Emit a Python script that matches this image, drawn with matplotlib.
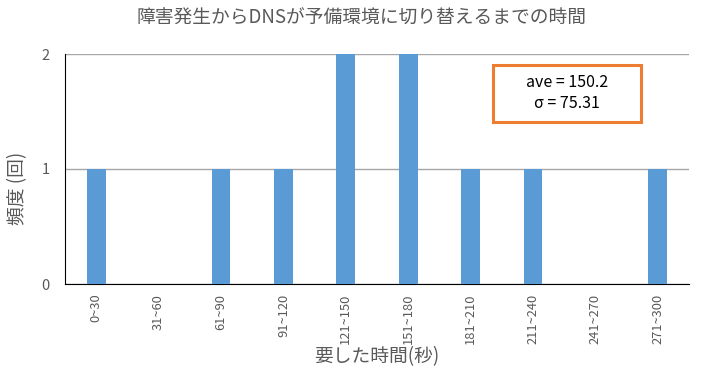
import matplotlib
matplotlib.use("Agg")
import matplotlib.pyplot as plt
from matplotlib.patches import Rectangle

plt.rcParams['font.family'] = ['Noto Sans CJK JP', 'DejaVu Sans']

categories = ["0~30", "31~60", "61~90", "91~120", "121~150", "151~180",
              "181~210", "211~240", "241~270", "271~300"]
counts = [1, 0, 1, 1, 2, 2, 1, 1, 0, 1]
yticks = [0, 1, 2]
title = "障害発生からDNSが予備環境に切り替えるまでの時間"
xlabel = "要した時間(秒)"
ylabel = "頻度 (回)"
stats_text = "ave = 150.2\nσ = 75.31"

fig = plt.figure(figsize=(7.24, 3.76), dpi=100)
ax = fig.add_axes([65/724, 1-284/376, (689-65)/724, (284-54)/376])

x = list(range(len(categories)))
ax.bar(x, counts, width=0.3, color="#5B9BD5", zorder=3)
ax.set_xlim(-0.5, len(categories)-0.5)
ax.set_ylim(0, 2)
ax.set_yticks(yticks)
ax.yaxis.grid(True, color="#A6A6A6", linewidth=1, zorder=0)
ax.set_xticks(x)
ax.set_xticklabels(categories, rotation=90, fontsize=9.3, color="#595959")
ax.tick_params(axis='x', length=0, pad=7)
ax.tick_params(axis='y', length=0, labelsize=10.5, labelcolor="#595959", pad=11)
for s in ["top", "right"]:
    ax.spines[s].set_visible(False)
ax.spines["left"].set_color("black")
ax.spines["bottom"].set_color("black")

ax.set_xlabel(xlabel, fontsize=13.5, color="#595959")
ax.xaxis.set_label_coords(0.5, -(357-284)/230, transform=ax.transAxes)
ax.xaxis.label.set_va("center")
ax.set_ylabel(ylabel, fontsize=13.5, color="#595959")
ax.yaxis.set_label_coords(-(65-18)/624, (284-188)/230)
ax.yaxis.label.set_va("center")
fig.text(0.5, 1-18/376, title, ha="center", va="center", fontsize=13.5, color="#595959")

fig.patches.append(Rectangle((493/724, 1-122/376), (641-493)/724, (122-65)/376,
                             transform=fig.transFigure, fill=True, facecolor="white",
                             edgecolor="#ED7D31", linewidth=2.2, zorder=5))
fig.text(567/724, 1-93/376, stats_text, ha="center", va="center", fontsize=11.5,
         color="black", linespacing=1.3, zorder=6)

fig.savefig("out.png", dpi=100)
